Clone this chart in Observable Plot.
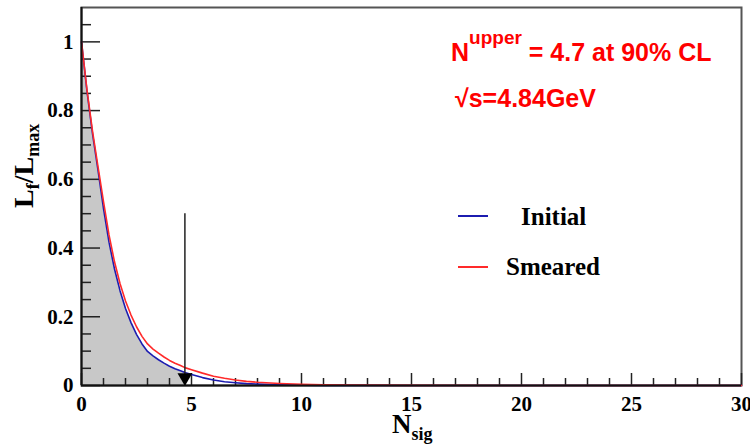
<!DOCTYPE html>
<html>
<head>
<meta charset="utf-8">
<script src="https://cdn.jsdelivr.net/npm/d3@7"></script>
<script src="https://cdn.jsdelivr.net/npm/@observablehq/plot@0.6"></script>
<style>
  body { margin: 0; background: #fff; }
  #wrap { position: relative; width: 750px; height: 447px; overflow: hidden; }
  #wrap svg { position: absolute; left: 0; top: 0; }
  .lab { position: absolute; white-space: nowrap; }
  .sans { font-family: "Liberation Sans", Arial, sans-serif; font-weight: bold; color: #ff0000; font-size: 25px; line-height: 25px; }
  .serif { font-family: "Liberation Serif", "Times New Roman", serif; font-weight: bold; color: #000; }
</style>
</head>
<body>
<div id="wrap">
  <div class="lab sans" style="left:451px; top:40px;">N<span style="font-size:19px; position:relative; top:-17px;">upper</span> = 4.7 at 90% CL</div>
  <div class="lab sans" style="left:455px; top:86px;">√s=4.84GeV</div>
  <div class="lab" style="left:458px; top:215px; width:30px; height:2px; background:#1c1cb0;"></div>
  <div class="lab serif" style="left:521px; top:204px; font-size:25px; line-height:25px;">Initial</div>
  <div class="lab" style="left:458px; top:266px; width:30px; height:2px; background:#ff2a2a;"></div>
  <div class="lab serif" style="left:506px; top:254px; font-size:25px; line-height:25px;">Smeared</div>
  <div class="lab serif" style="left:392px; top:411px; font-size:27px; line-height:27px;">N<span style="font-size:18px; position:relative; top:7px;">sig</span></div>
  <div class="lab serif" style="left:10px; top:208px; font-size:28px; line-height:28px; transform-origin:0 0; transform:rotate(-90deg);">L<span style="font-size:18px; position:relative; top:6px;">f</span>/L<span style="font-size:18px; position:relative; top:6px;">max</span></div>
</div>
<script>
// Likelihood scan (normalised)
const nsig    = [0,0.25,0.5,0.75,1,1.25,1.5,1.75,2,2.25,2.5,2.75,3,3.25,3.5,3.75,4,4.25,4.5,4.7,5,5.5,6,6.5,7,7.5,8,9,10,11,12,15,20,25,30];
const initial = [1,0.856,0.733,0.627,0.515,0.417,0.339,0.276,0.224,0.183,0.149,0.121,0.099,0.086,0.075,0.065,0.056,0.049,0.043,0.038,0.032,0.023,0.016,0.011,0.008,0.0055,0.004,0.002,0.001,0.0005,0.0003,0.0001,0,0,0];
const smeared = [1,0.860,0.740,0.637,0.535,0.438,0.360,0.297,0.246,0.205,0.171,0.143,0.121,0.106,0.094,0.083,0.073,0.065,0.058,0.052,0.046,0.036,0.027,0.021,0.016,0.012,0.0095,0.006,0.0035,0.002,0.001,0.0003,0,0,0];
const upperLimit = 4.7;
const arrowTop = 0.5;

const xMajor = [0,5,10,15,20,25,30];
const xMinor = [1,2,3,4,6,7,8,9,11,12,13,14,16,17,18,19,21,22,23,24,26,27,28,29];
const yMajor = [0,0.2,0.4,0.6,0.8,1];
const yMinor = [0.05,0.1,0.15,0.25,0.3,0.35,0.45,0.5,0.55,0.65,0.7,0.75,0.85,0.9,0.95,1.05];

const blueData = nsig.map((n, i) => ({n, v: initial[i]}));
const redData  = nsig.map((n, i) => ({n, v: smeared[i]}));
const fillData = blueData.filter(d => d.n <= upperLimit);

const W = 750, H = 447, mL = 81, mR = 9, mT = 7, mB = 62;
const pw = W - mL - mR, ph = H - mT - mB;
const tickCol = "#222";

const chart = Plot.plot({
  width: W, height: H,
  marginLeft: mL, marginRight: mR, marginTop: mT, marginBottom: mB,
  x: {domain: [0, 30]},
  y: {domain: [0, 1.1]},
  style: {fontFamily: "Liberation Serif, Times New Roman, serif", fontWeight: "bold", fontSize: "21px", color: "#000", background: "transparent"},
  marks: [
    Plot.areaY(fillData, {x: "n", y: "v", fill: "#c8c8c8"}),
    Plot.frame({stroke: "#555", strokeWidth: 2}),
    Plot.tickX(xMajor, {x: d => d, insetTop: ph - 12, stroke: tickCol, strokeWidth: 1.5}),
    Plot.tickX(xMinor, {x: d => d, insetTop: ph - 7, stroke: tickCol, strokeWidth: 1.5}),
    Plot.tickY(yMajor, {y: d => d, insetRight: pw - 19, stroke: tickCol, strokeWidth: 1.5}),
    Plot.tickY(yMinor, {y: d => d, insetRight: pw - 10, stroke: tickCol, strokeWidth: 1.5}),
    Plot.line(blueData, {x: "n", y: "v", stroke: "#1c1cb0", strokeWidth: 1.6}),
    Plot.line(redData, {x: "n", y: "v", stroke: "#ff2a2a", strokeWidth: 1.6}),
    Plot.ruleX([upperLimit], {y1: 0, y2: arrowTop, stroke: "#222", strokeWidth: 1.5}),
    Plot.dot([upperLimit], {x: d => d, y: 0, symbol: "triangle", rotate: 180, r: 5.5, fill: "#000", stroke: "none", dy: -8}),
    Plot.ruleX([0], {stroke: "#111", strokeWidth: 2}),
    Plot.ruleY([0], {stroke: "#111", strokeWidth: 2}),
    Plot.axisX({ticks: xMajor, tickSize: 0, tickPadding: 11, tickFormat: d => String(d), label: null}),
    Plot.axisY({ticks: yMajor, tickSize: 0, tickPadding: 8, tickFormat: d => String(d), label: null})
  ]
});
document.getElementById("wrap").prepend(chart);
</script>
</body>
</html>
